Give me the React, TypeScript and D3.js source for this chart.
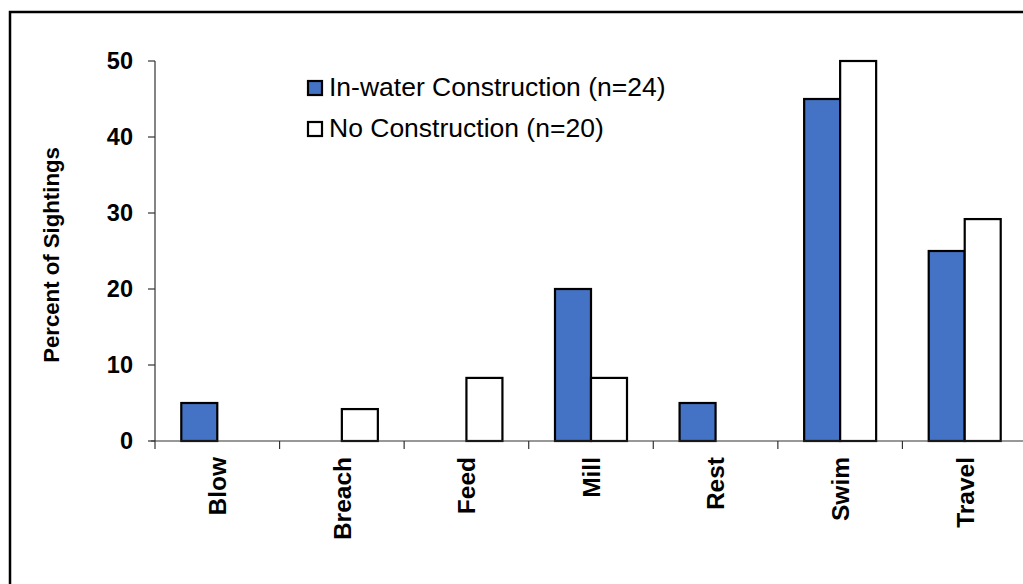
import React from "react";
import * as d3 from "d3";

const categories = ["Blow", "Breach", "Feed", "Mill", "Rest", "Swim", "Travel"];
const seriesNames = ["In-water Construction (n=24)", "No Construction (n=20)"];
const inWater = [5, 0, 0, 20, 5, 45, 25];
const noConstruction = [0, 4.2, 8.3, 8.3, 0, 50, 29.2];
const yTicks = [0, 10, 20, 30, 40, 50];

const colors = ["#4472C4", "#FFFFFF"];
const font = "'Liberation Sans', Arial, sans-serif";

export default function App() {
    const width = 1023;
    const height = 584;
    const margin = { left: 155, right: -4, top: 61, bottom: 143 };

    const x = d3.scaleBand<string>()
        .domain(categories)
        .range([margin.left, width - margin.right]);
    const y = d3.scaleLinear([0, 50], [height - margin.bottom, margin.top]);

    const barW = 36;
    const series = [inWater, noConstruction];
    const y0 = y(0);

    return <svg width={width} height={height}
        style={{ position: "absolute", left: 0, top: 0, background: "#fff" }}
        fontFamily={font}>
        {/* outer frame */}
        <rect x={10} y={12} width={width + 20} height={height + 20}
            fill="none" stroke="black" strokeWidth={2.5} />

        {/* bars */}
        {series.map((vals, s) => (
            <g key={s}>
                {vals.map((v, i) => v > 0 && (
                    <rect key={i}
                        x={x(categories[i])! + x.bandwidth() / 2 + (s - 1) * barW}
                        y={y(v)}
                        width={barW}
                        height={y0 - y(v)}
                        fill={colors[s]}
                        stroke="black"
                        strokeWidth={2.2} />
                ))}
            </g>
        ))}

        {/* y axis */}
        <line x1={margin.left} x2={margin.left} y1={y(50)} y2={y0} stroke="#333" strokeWidth={1.2} />
        {yTicks.map(t => (
            <g key={t}>
                <line x1={margin.left - 7} x2={margin.left} y1={y(t)} y2={y(t)} stroke="#333" strokeWidth={1.2} />
                <text x={margin.left - 22} y={y(t)} dy="0.36em" textAnchor="end"
                    fontWeight="bold" fontSize={23.5}>{t}</text>
            </g>
        ))}
        <text transform={`translate(59,255) rotate(-90)`}
            textAnchor="middle" fontWeight="bold" fontSize={22.2}>Percent of Sightings</text>

        {/* x axis */}
        <line x1={margin.left - 4} x2={width} y1={y0} y2={y0} stroke="#333" strokeWidth={1.2} />
        {categories.map(c => (
            <line key={c} x1={x(c)!} x2={x(c)!} y1={y0} y2={y0 + 8} stroke="#333" strokeWidth={1.2} />
        ))}
        {categories.map(c => (
            <text key={c}
                transform={`translate(${x(c)! + x.bandwidth() / 2},${y0 + 16}) rotate(-90)`}
                dy="0.36em" textAnchor="end" fontWeight="bold" fontSize={24.5}>{c}</text>
        ))}

        {/* legend */}
        {seriesNames.map((n, i) => (
            <g key={n} transform={`translate(308,${81 + i * 41})`}>
                <rect x={0} y={0} width={14} height={14} fill={colors[i]} stroke="black" strokeWidth={2.2} />
                <text x={21} y={14.5} fontSize={26.5}>{n}</text>
            </g>
        ))}
    </svg>;
}
